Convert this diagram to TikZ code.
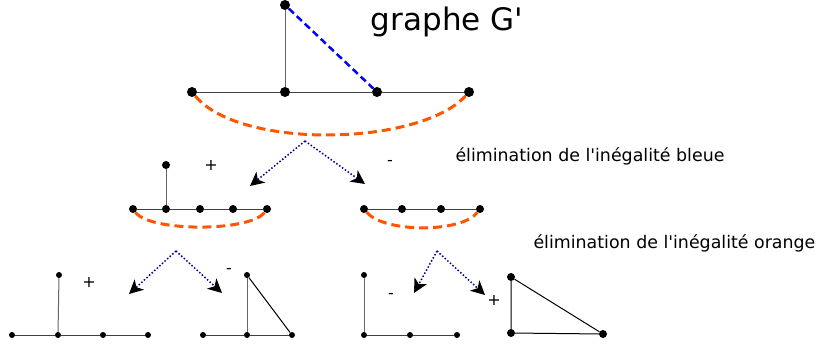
\documentclass[tikz,border=0pt]{standalone}
\usepackage{fontspec}
\setmainfont{DejaVu Sans}
\usetikzlibrary{arrows.meta}

\definecolor{orangeineq}{HTML}{FF5500}
\definecolor{blueineq}{HTML}{0000FF}
\definecolor{navyarrow}{HTML}{000090}

\begin{document}
\begin{tikzpicture}[
    x=1pt, y=-1pt,
    bigdot/.style={circle, fill=black, inner sep=0pt, minimum size=10pt},
    middot/.style={circle, fill=black, inner sep=0pt, minimum size=8pt},
    smalldot/.style={circle, fill=black, inner sep=0pt, minimum size=6pt},
    edge/.style={line width=1pt, black!75},
    vedge/.style={line width=1pt, black!60},
    blueline/.style={line width=2.5pt, blueineq, dash pattern=on 7pt off 4pt},
    orangeline/.style={line width=3pt, orangeineq, dash pattern=on 9pt off 5pt},
    choice/.style={line width=1.5pt, navyarrow, dotted, -{Stealth[length=14pt, width=14pt, inset=4pt, black]}},
    sign/.style={font=\fontsize{16}{16}\selectfont},
    title/.style={font=\fontsize{17.4}{17.4}\selectfont, anchor=west}
]
\useasboundingbox (0,0) rectangle (816,343);

\node[font=\fontsize{31}{31}\selectfont] (titre) at (447,22) {graphe G\textquotesingle};

\node[bigdot] (g0) at (285,5) {};
\node[bigdot] (g1) at (192,92) {};
\node[bigdot] (g2) at (285,92) {};
\node[bigdot] (g3) at (377,92) {};
\node[bigdot] (g4) at (469,92) {};
\draw[vedge] (g0) -- (g2);
\draw[edge] (g1) -- (g2) -- (g3) -- (g4);
\draw[blueline] (g0) -- (g3);
\draw[orangeline] (g1) .. controls (240,150) and (420,146) .. (g4);

\coordinate (top) at (305,141);
\coordinate (topl) at (250,186);
\coordinate (topr) at (365,184);
\draw[choice] (top) -- (topl);
\draw[choice] (top) -- (topr);
\node[sign] (plus1) at (211,165) {+};
\node[sign] (moins1) at (390,163) {-};
\node[title] (bleue) at (452,156) {élimination de l\textquotesingle inégalité bleue};

\node[middot] (a0) at (166,165) {};
\node[middot] (a1) at (133,209) {};
\node[middot] (a2) at (166,209) {};
\node[middot] (a3) at (200,209) {};
\node[middot] (a4) at (233,209) {};
\node[middot] (a5) at (267,209) {};
\draw[vedge] (a0) -- (a2);
\draw[edge] (a1) -- (a2) -- (a3) -- (a4) -- (a5);
\draw[orangeline] (a1) .. controls (150,232) and (250,232) .. (a5);

\node[middot] (b1) at (364,209) {};
\node[middot] (b2) at (402,209) {};
\node[middot] (b3) at (441,209) {};
\node[middot] (b4) at (480,209) {};
\draw[edge] (b1) -- (b2) -- (b3) -- (b4);
\draw[orangeline] (b1) .. controls (384,233) and (462,233) .. (b4);

\node[title] (orange) at (530,243) {élimination de l\textquotesingle inégalité orange};

\coordinate (left) at (176,251);
\coordinate (leftl) at (129,294);
\coordinate (leftr) at (222,293);
\draw[choice] (left) -- (leftl);
\draw[choice] (left) -- (leftr);
\node[sign] (plus2) at (89,282) {+};
\node[sign] (moins2) at (229,271) {-};

\coordinate (right) at (437,251);
\coordinate (rightl) at (414,293);
\coordinate (rightr) at (485,295);
\draw[choice] (right) -- (rightl);
\draw[choice] (right) -- (rightr);
\node[sign] (moins3) at (391,296) {-};
\node[sign] (plus3) at (494,300) {+};

\node[smalldot] (c0) at (59,275) {};
\node[smalldot] (c1) at (12,335) {};
\node[smalldot] (c2) at (58,335) {};
\node[smalldot] (c3) at (103,335) {};
\node[smalldot] (c4) at (148,335) {};
\draw[vedge] (c0) -- (c2);
\draw[edge] (c1) -- (c2) -- (c3) -- (c4);

\node[smalldot] (d0) at (247,275) {};
\node[smalldot] (d1) at (203,335) {};
\node[smalldot] (d2) at (247,335) {};
\node[smalldot] (d3) at (292,335) {};
\draw[vedge] (d0) -- (d2);
\draw[edge] (d1) -- (d2) -- (d3);
\draw[edge, black] (d0) -- (d3);

\node[smalldot] (e0) at (364,275) {};
\node[smalldot] (e1) at (364,335) {};
\node[smalldot] (e2) at (410,335) {};
\node[smalldot] (e3) at (457,335) {};
\draw[vedge] (e0) -- (e1);
\draw[edge] (e1) -- (e2) -- (e3);

\node[middot] (f0) at (511,277) {};
\node[middot] (f1) at (511,333) {};
\node[middot] (f2) at (603,334) {};
\draw[edge, black] (f0) -- (f1) -- (f2) -- (f0);
\end{tikzpicture}
\end{document}
